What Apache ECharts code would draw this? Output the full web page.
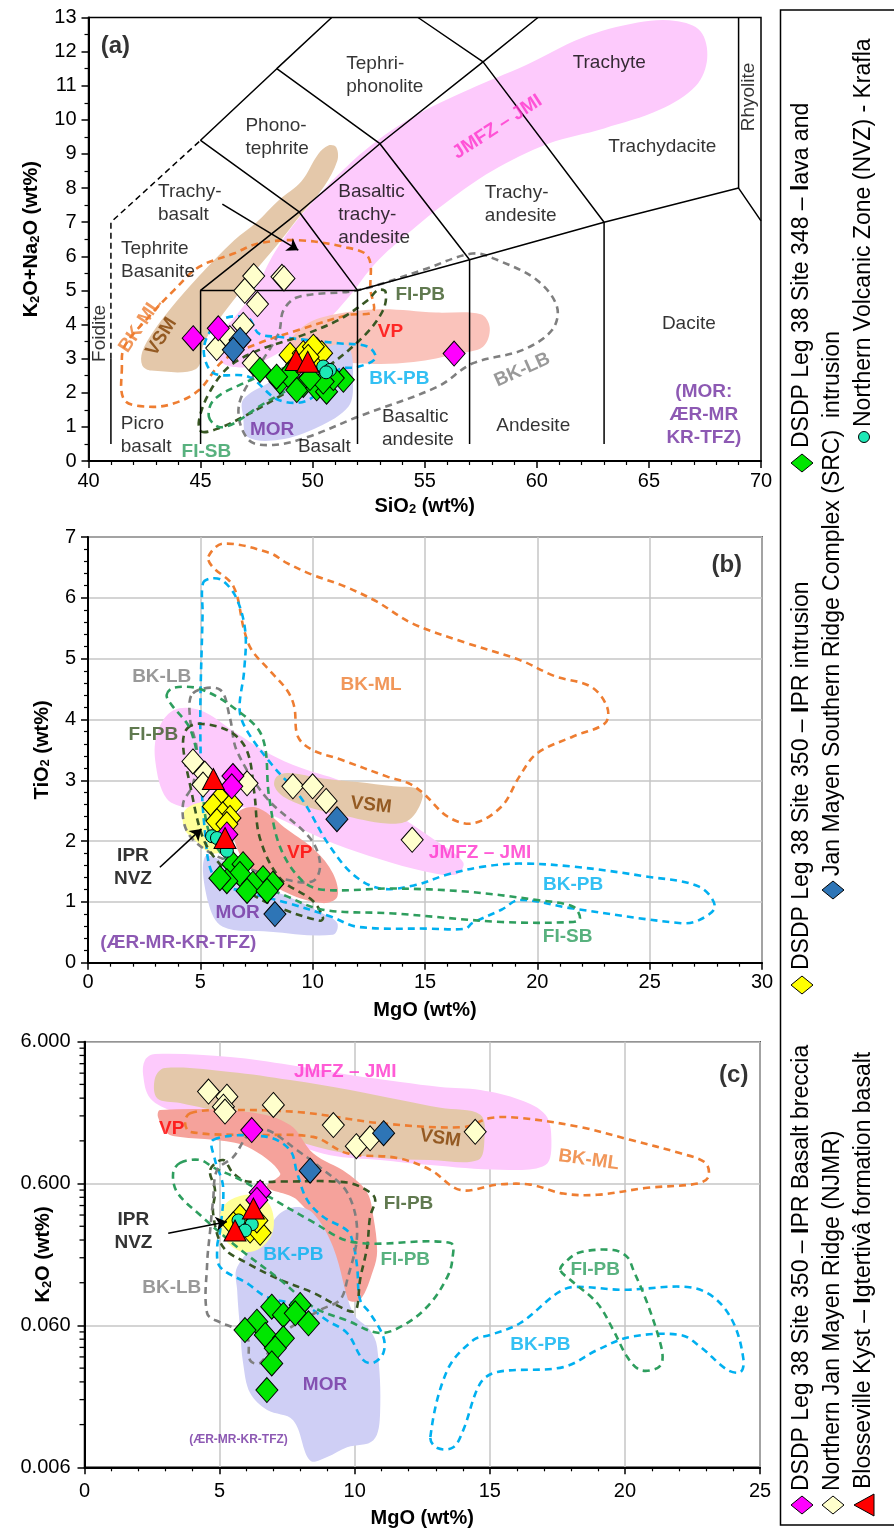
<!DOCTYPE html>
<html><head><meta charset="utf-8">
<script src="https://cdn.jsdelivr.net/npm/echarts@6.0.0/dist/echarts.min.js"></script>
<style>html,body{margin:0;padding:0;background:#fff}#c{width:894px;height:1535px}</style>
</head><body><div id="c"></div>
<script>
// ================= DATA =================
// ---- Panel (a): TAS  [SiO2, Na2O+K2O]
const magA   = [[44.67,3.6],[45.79,3.89],[56.31,3.15]];
const creamA = [[47.37,5.42],[48.63,5.40],[48.72,5.35],[46.97,4.99],[47.54,4.60],[46.9,3.99],[45.72,3.31],[47.35,2.87],[46.3,3.6]];
const blueA  = [[46.76,3.55],[46.46,3.26]];
const yelA   = [[48.99,3.11],[49.58,3.16],[50.18,3.26],[50.4,3.16],[49.29,2.82],[49.88,2.91],[50.03,3.35],[49.8,3.05]];
const grnA   = [[47.65,2.67],[48.54,2.33],[48.91,2.52],[49.58,2.23],[49.29,2.08],[50.18,2.13],[50.62,2.03],[51.37,2.38],[50.92,2.43],[50.47,2.33],[49.88,2.43],[48.39,2.47]];
const redA   = [[49.26,2.96],[49.78,2.91]];
const cyanA  = [[50.47,2.77],[50.77,2.67],[50.6,2.6]];
// TAS field boundaries
const tasSolid = [
  [[41,0.5],[41,3]],
  [[45,0.5],[45,5],[52,5],[52,0.5]],
  [[57,0.5],[57,5.9]],
  [[63,0.5],[63,7]],
  [[52,5],[57,5.9],[63,7],[69,8],[70,7.04]],
  [[45,5],[49.4,7.3],[53,9.3],[57.6,11.7],[60.05,13]],
  [[52,5],[49.4,7.3],[45,9.4],[48.4,11.5],[50.85,13]],
  [[57,5.9],[53,9.3],[48.4,11.5]],
  [[63,7],[57.6,11.7],[54.7,13]],
  [[69,8],[69,13]]
];
const tasDashed = [[41,3],[41,7],[45,9.4]];
// fields (a)
const JMFZ_A = [[45.5,3.5],[45.9,2.9],[47.0,2.75],[48.3,3.1],[49.5,3.6],[50.6,4.1],[51.6,4.8],[52.8,5.8],[54.3,6.7],[56.0,7.6],[58.0,8.5],[60.5,9.3],[63.0,9.75],[65.5,10.3],[67.1,11.0],[67.6,11.8],[67.3,12.6],[66.2,12.9],[64.5,12.85],[62.0,12.4],[59.5,11.6],[57.0,10.9],[54.5,10.1],[52.5,9.2],[51.0,8.3],[50.0,7.6],[49.0,6.8],[48.2,6.0],[47.4,5.0],[46.5,4.2]];
const VSM_A  = [[42.4,2.8],[42.8,2.65],[44.8,2.7],[45.15,3.45],[45.8,4.13],[46.7,4.91],[47.6,5.7],[48.5,6.4],[49.4,7.16],[50.5,8.04],[51.1,8.8],[51.05,9.2],[50.7,9.25],[50.25,9.0],[49.5,8.2],[48.5,7.65],[47.5,7.0],[46.5,6.47],[44.9,5.4],[43.7,4.5],[42.9,3.8],[42.4,3.2]];
const VP_A   = [[49.0,3.4],[49.7,4.0],[51.0,4.3],[53.0,4.45],[55.5,4.35],[57.5,4.3],[57.9,3.9],[57.6,3.35],[56.5,3.15],[54.5,2.9],[52.5,2.85],[50.5,3.0]];
const MOR_A  = [[46.9,1.3],[47.1,0.7],[48.5,0.62],[50.25,1.0],[51.6,1.6],[51.8,2.3],[51.6,3.35],[50.7,3.35],[49.4,2.76],[48.0,2.28],[46.9,1.8]];
const BKML_A = [[41.49,2.76],[41.6,1.79],[42.7,1.59],[43.82,1.69],[44.93,2.08],[46.04,2.96],[47.59,3.45],[49.36,3.84],[51.58,4.28],[52.69,4.38],[52.58,5.01],[52.47,5.99],[51.36,6.28],[49.36,6.47],[47.59,6.38],[46.48,6.08],[44.93,5.69],[43.82,5.01],[42.7,4.23],[41.6,3.35]];
const BKLB_A = [[46.7,1.59],[47.14,0.62],[48.25,0.47],[49.81,0.71],[52.03,1.3],[55.58,2.18],[57.13,2.86],[59.35,3.25],[60.68,3.84],[60.9,4.52],[60.01,5.3],[58.24,5.89],[57.13,6.08],[54.91,5.6],[52.03,5.01],[49.36,4.81],[48.7,4.42],[48.48,3.74],[47.59,2.76]];
const BKPB_A = [[45.37,3.74],[46.04,4.18],[47.14,4.18],[47.59,3.74],[48.48,3.64],[51.14,3.45],[52.47,3.35],[52.8,3.01],[52.03,2.76],[51.14,2.67],[49.81,1.79],[48.48,1.79],[47.14,2.47],[45.59,2.57],[45.15,3.15]];
const FIPB_A = [[45.04,0.86],[45.81,0.96],[46.92,1.3],[48.48,1.88],[50.47,2.67],[52.25,3.64],[53.14,4.42],[53.25,4.96],[52.91,5.01],[52.47,4.72],[51.14,4.13],[49.36,3.64],[47.59,3.25],[46.26,2.76],[45.37,1.98],[44.93,1.19]];
const FISB_A = [[45.37,1.3],[45.81,1.0],[46.48,1.1],[47.59,1.59],[49.36,2.28],[50.25,2.76],[50.03,2.96],[48.48,2.67],[46.92,2.28],[45.59,1.79]];

// ---- Panel (b): [MgO, TiO2]
const creamB = [[4.67,3.31],[5.2,3.11],[5.12,2.93],[7.08,2.95],[9.12,2.9],[10.0,2.9],[10.6,2.66],[14.43,2.02]];
const magB   = [[6.45,3.07],[6.4,2.9],[6.18,2.11]];
const redB   = [[5.58,3.02],[6.1,2.05]];
const yelB   = [[5.87,2.7],[6.4,2.6],[5.58,2.57],[6.0,2.44],[6.32,2.38],[5.74,2.33],[6.18,2.28]];
const cyanB  = [[5.52,2.08],[5.74,2.05],[6.18,1.84]];
const grnB   = [[6.45,1.62],[6.9,1.62],[6.76,1.46],[7.79,1.39],[8.23,1.3],[7.34,1.3],[6.18,1.34],[5.87,1.39],[7.08,1.18],[7.97,1.18]];
const blueB  = [[11.08,2.36],[8.32,0.8]];
const JMFZ_B = [[3.0,3.3],[3.1,3.8],[3.8,4.15],[5.0,4.15],[6.5,3.8],[8.0,3.45],[9.5,3.2],[11.5,2.95],[13.5,2.5],[15.5,2.0],[16.7,1.65],[16.4,1.45],[15.0,1.5],[13.0,1.7],[11.0,1.95],[9.5,2.2],[8.0,2.45],[7.0,2.55],[5.5,2.6],[4.5,2.55],[3.5,2.7]];
const VSM_B  = [[8.4,3.06],[8.9,3.12],[10.45,3.03],[12.0,2.97],[13.6,2.9],[14.6,2.87],[14.9,2.73],[14.3,2.35],[13.3,2.29],[11.25,2.43],[9.7,2.57],[8.7,2.73],[8.3,2.9]];
const VP_B   = [[6.8,2.51],[7.6,2.54],[8.9,2.18],[10.1,1.85],[10.9,1.47],[11.1,1.09],[10.45,0.98],[8.9,1.14],[7.3,1.52],[6.6,1.91],[6.5,2.29]];
const MOR_B  = [[5.2,1.74],[5.36,0.98],[6.0,0.59],[8.1,0.51],[10.9,0.46],[11.1,0.65],[10.45,0.81],[8.9,1.09],[7.3,1.31],[6.2,1.63]];
const YEL_B  = [[4.3,2.5],[5.2,2.65],[6.2,2.6],[6.5,2.2],[6.3,1.9],[5.5,1.8],[4.8,2.0],[4.3,2.2]];
const BKML_B = [[5.36,6.68],[6.0,6.89],[8.07,6.74],[8.86,6.57],[9.98,6.38],[11.41,6.19],[12.84,5.94],[14.43,5.58],[16.82,5.26],[19.2,4.98],[20.79,4.71],[22.38,4.54],[23.1,4.21],[23.02,3.94],[21.59,3.72],[19.98,3.44],[19.2,3.06],[18.41,2.57],[17.13,2.29],[16.02,2.4],[14.91,2.79],[14.27,2.95],[13.32,3.06],[11.25,3.34],[9.98,3.5],[9.34,3.72],[9.18,4.21],[8.86,4.48],[8.07,4.81],[7.27,5.15],[6.95,5.47],[6.47,6.19],[5.52,6.52]];
const BKPB_B = [[5.12,6.24],[5.5,6.32],[6.0,6.28],[6.6,6.0],[7.0,5.45],[6.95,4.8],[6.75,4.15],[7.1,3.8],[8.2,3.25],[9.5,2.7],[10.7,1.95],[11.8,1.45],[13.0,1.22],[14.5,1.27],[16.0,1.45],[17.6,1.58],[19.2,1.63],[21.6,1.58],[24.8,1.42],[27.2,1.25],[27.9,0.92],[27.2,0.7],[26.4,0.65],[21.6,0.89],[19.2,1.03],[18.4,0.87],[17.1,0.65],[16.8,0.56],[15.2,0.56],[12.0,0.59],[10.8,0.76],[8.9,0.98],[7.3,1.14],[5.7,1.36],[5.2,2.18],[5.0,3.8],[5.1,5.75]];
const BKLB_B = [[4.67,4.43],[5.87,4.49],[6.32,4.02],[6.63,3.48],[7.97,2.7],[9.88,2.05],[10.33,1.62],[10.0,1.34],[8.54,1.39],[6.63,1.62],[5.3,1.84],[4.41,2.16],[4.23,2.61],[4.67,2.93],[4.85,3.48],[4.54,4.02]];
const FIPB_B = [[4.41,3.85],[4.98,3.93],[6.32,3.8],[7.08,3.48],[7.4,2.8],[7.65,2.05],[8.54,1.39],[10.0,1.02],[10.46,0.74],[10.33,0.69],[8.54,0.9],[7.08,1.18],[5.87,1.62],[5.12,2.05],[4.54,2.93],[4.23,3.59]];
const FISB_B = [[3.5,4.4],[3.8,4.52],[5.0,4.5],[6.6,4.16],[7.75,3.72],[8.06,2.73],[8.54,1.91],[9.5,1.36],[10.45,1.2],[13.6,1.22],[16.8,1.17],[20.0,1.03],[21.6,0.92],[21.9,0.73],[21.6,0.67],[18.4,0.67],[13.6,0.81],[10.45,0.87],[8.86,1.09],[7.27,1.36],[6.16,1.69],[5.36,2.18],[5.04,3.0],[4.56,3.83],[3.7,4.25]];

// ---- Panel (c): [MgO, K2O]  (log axis)
const creamC = [[4.59,2.67],[5.27,2.46],[5.14,2.09],[5.2,1.93],[6.99,2.15],[9.21,1.55],[10.06,1.10],[10.57,1.25],[14.46,1.39]];
const blueC  = [[11.07,1.36],[8.35,0.74]];
const magC   = [[6.19,1.43],[6.5,0.52],[6.38,0.46]];
const redC   = [[6.25,0.40],[5.57,0.28]];
const yelC   = [[5.76,0.35],[6.13,0.28],[6.5,0.27],[5.51,0.31],[6.38,0.33]];
const cyanC  = [[6.19,0.31],[5.7,0.33],[5.94,0.28]];
const grnC   = [[6.93,0.0813],[7.98,0.0836],[7.36,0.0711],[7.8,0.0731],[6.38,0.0638],[5.94,0.0557],[6.69,0.0514],[7.36,0.0487],[7.06,0.0414],[6.93,0.0324],[8.29,0.0621],[6.75,0.021]];
const JMFZ_C = [[2.24,4.46],[2.61,4.91],[5.39,4.68],[7.61,4.11],[9.83,3.49],[11.69,3.12],[13.17,2.88],[14.65,2.74],[16.13,2.33],[17.06,1.83],[17.28,1.22],[17.06,0.81],[15.39,0.75],[12.8,0.81],[10.94,0.88],[9.09,0.95],[7.24,1.22],[5.39,1.55],[3.35,1.92],[2.43,2.40],[2.17,3.49]];
const VSM_C  = [[2.61,3.33],[2.98,3.92],[5.39,3.67],[7.61,3.22],[9.83,2.74],[11.69,2.33],[13.17,2.05],[14.65,1.83],[14.8,1.22],[14.57,0.88],[12.8,0.88],[10.94,0.91],[9.09,1.03],[7.24,1.32],[5.39,1.83],[3.54,2.22],[2.69,2.40]];
const VP_C   = [[2.80,1.98],[6.13,1.91],[7.61,1.55],[8.46,0.98],[9.72,0.71],[10.46,0.52],[10.69,0.35],[10.83,0.20],[10.69,0.148],[10.2,0.091],[9.72,0.091],[9.2,0.126],[9.09,0.214],[7.87,0.46],[6.76,0.57],[7.24,0.71],[6.02,1.09],[4.76,1.22],[3.54,1.28],[3.06,1.36],[2.72,1.77]];
const MOR_C  = [[5.65,0.155],[6.76,0.28],[7.24,0.37],[7.87,0.41],[8.46,0.37],[9.2,0.214],[9.94,0.073],[10.57,0.0556],[10.83,0.0423],[10.94,0.0145],[10.69,0.0093],[9.72,0.0083],[8.98,0.0071],[8.35,0.0067],[7.72,0.0129],[6.76,0.0152],[6.13,0.020],[5.87,0.0325],[5.76,0.0556],[5.65,0.106]];
const YEL_C  = [[5.02,0.36],[5.39,0.46],[6.31,0.50],[6.87,0.42],[6.98,0.28],[6.5,0.21],[5.76,0.20],[5.09,0.26]];
const BKML_C = [[3.91,1.88],[5.13,1.98],[7.98,1.91],[10.94,1.60],[14.02,1.50],[15.02,1.74],[16.13,1.74],[18.35,1.50],[20.2,1.22],[22.06,0.98],[22.98,0.84],[23.09,0.67],[22.69,0.60],[20.83,0.56],[18.98,0.50],[17.72,0.51],[16.5,0.59],[15.28,0.59],[13.91,0.54],[12.8,0.75],[11.57,0.91],[9.72,0.98],[8.46,1.28],[6.02,1.32],[3.91,1.39],[3.72,1.63]];
const BKPB1_C = [[4.77,1.22],[6.76,1.28],[7.61,1.03],[7.87,0.71],[8.24,0.46],[8.83,0.35],[9.72,0.28],[9.94,0.229],[10.09,0.155],[10.2,0.091],[10.57,0.073],[11.06,0.0498],[11.06,0.0384],[10.69,0.0327],[10.31,0.0343],[9.72,0.053],[8.98,0.065],[8.24,0.081],[6.76,0.095],[6.02,0.119],[5.02,0.155],[4.91,0.214],[5.02,0.28],[5.13,0.57],[4.83,0.88]];
const BKPB2_C = [[12.8,0.0098],[13.43,0.0291],[14.39,0.0473],[15.02,0.0514],[16.13,0.0624],[17.5,0.1016],[18.09,0.112],[19.94,0.107],[22.31,0.112],[23.28,0.095],[24.02,0.0624],[24.39,0.0343],[24.28,0.0282],[23.8,0.0291],[22.8,0.0423],[22.06,0.0514],[20.2,0.0498],[18.98,0.0403],[17.72,0.0305],[15.28,0.0282],[14.65,0.0235],[14.02,0.0110],[13.65,0.0083],[13.06,0.0082]];
const FIPB_DK_C = [[4.65,0.75],[5.13,0.88],[5.5,0.71],[6.02,0.62],[7.24,0.62],[9.72,0.61],[10.57,0.52],[10.76,0.46],[10.57,0.35],[10.46,0.214],[10.2,0.126],[10.09,0.081],[9.94,0.075],[9.46,0.081],[8.46,0.102],[7.24,0.126],[6.02,0.165],[5.13,0.214],[4.76,0.37],[4.83,0.54]];
const FIPB1_C = [[3.54,0.84],[4.28,0.88],[4.76,0.78],[5.76,0.64],[6.87,0.48],[8.35,0.33],[9.94,0.232],[13.54,0.229],[13.61,0.173],[13.43,0.132],[12.8,0.086],[11.94,0.0624],[10.94,0.053],[9.72,0.065],[8.46,0.081],[7.24,0.126],[5.65,0.214],[4.28,0.36],[3.43,0.52],[3.28,0.71]];
const FIPB2_C = [[17.61,0.148],[17.87,0.173],[18.35,0.197],[19.57,0.204],[20.09,0.182],[20.31,0.148],[20.83,0.086],[21.31,0.045],[21.39,0.0342],[21.2,0.030],[20.57,0.0291],[20.09,0.0359],[19.57,0.0557],[18.98,0.086],[17.98,0.126]];
const BKLB_C = [[6.13,1.36],[5.5,0.92],[4.91,0.75],[4.76,0.46],[4.65,0.28],[4.54,0.165],[4.54,0.073],[5.02,0.063],[5.5,0.058],[6.02,0.050],[6.13,0.034],[6.5,0.0326],[7.24,0.051],[8.72,0.077],[9.46,0.091],[9.72,0.125],[10.09,0.27],[9.72,0.52],[8.72,0.78],[7.87,1.03],[6.76,1.43]];
const yTicksC = ['0.006','0.060','0.600','6.000'];

// ================= RENDER =================
const FONT = "'Liberation Sans', Arial, Helvetica, sans-serif";
const LG0 = 0.006;
const lg = v => Math.log10(v / LG0);
const T = arr => arr.map(p => [p[0], lg(p[1])]);

const COL = {mag:'#ff00ff', yel:'#ffff00', grn:'#00e600', cream:'#ffffcc', blue:'#2e75b6', red:'#ff0000', cyan:'#1de9b6'};
const LC = {orange:'#ee7d31', gray:'#7f7f7f', cyan:'#00b0f0', dkgreen:'#385723', green:'#2e9e5e', brown:'#7f3f00', red:'#ff0000', pink:'#ff33cc', purple:'#7030a0'};

function region(points, gi, fill, z, opacity){
  return {type:'custom', xAxisIndex:gi, yAxisIndex:gi, clip:true, silent:true, z:z||1, data:points,
    renderItem:(params, api)=>{ if(params.dataIndex!==0) return null;
      return {type:'polygon', shape:{points:points.map(p=>api.coord(p)), smooth:0.35},
        style:{fill:fill, opacity: opacity==null?1:opacity}}; }};
}
function outline(points, gi, color){
  return {type:'custom', xAxisIndex:gi, yAxisIndex:gi, clip:true, silent:true, z:3, data:points,
    renderItem:(params, api)=>{ if(params.dataIndex!==0) return null;
      return {type:'polygon', shape:{points:points.map(p=>api.coord(p)), smooth:0.35},
        style:{fill:'none', stroke:color, lineWidth:2.6, lineDash:[7,5]}}; }};
}
function pts(data, gi, kind, color){
  const s = kind==='d' ? {symbol:'diamond', symbolSize:[22,25]} : kind==='t' ? {symbol:'triangle', symbolSize:[22,21]} : {symbol:'circle', symbolSize:13};
  return Object.assign({type:'scatter', xAxisIndex:gi, yAxisIndex:gi, data:data, z:10,
    itemStyle:{color:color, borderColor:'#000', borderWidth:1, opacity:1}}, s);
}
function texts(list, gi){
  return {type:'scatter', xAxisIndex:gi, yAxisIndex:gi, symbolSize:0, silent:true, z:20,
    data:list.map(l=>({value:[l.x,l.y], label:{show:true, position:'inside', formatter:l.t,
      color:l.c||'#000', fontSize:l.s||19, fontWeight:l.b?'bold':'normal', fontFamily:FONT, align:l.a||'center',
      verticalAlign:'middle', lineHeight:l.lh||23, rotate:l.r||0}}))};
}
function arrow(from, to, gi){
  return {type:'lines', coordinateSystem:'cartesian2d', xAxisIndex:gi, yAxisIndex:gi, z:15, silent:true,
    symbol:['none','arrow'], symbolSize:11, lineStyle:{color:'#000', width:1.6, opacity:1, curveness:0},
    data:[{coords:[from,to]}]};
}

const series = [];
// ---- (a)
series.push(region(JMFZ_A,0,'#fdcafc',1), region(VSM_A,0,'#e4c8aa',1), region(VP_A,0,'#fac3bb',1), region(MOR_A,0,'#cfcff5',1));
[[BKML_A,LC.orange],[BKLB_A,LC.gray],[BKPB_A,LC.cyan],[FIPB_A,LC.dkgreen],[FISB_A,LC.green]].forEach(([p,c])=>series.push(outline(p,0,c)));
tasSolid.forEach(l=>series.push({type:'line', xAxisIndex:0, yAxisIndex:0, data:l, symbol:'none', silent:true, z:4,
  lineStyle:{color:'#000', width:1.5}}));
series.push({type:'line', xAxisIndex:0, yAxisIndex:0, data:tasDashed, symbol:'none', silent:true, z:4, lineStyle:{color:'#000', width:1.5, type:[6,4]}});
series.push(arrow([45.97,7.53],[49.36,6.18],0));
series.push(pts(creamA,0,'d',COL.cream), pts(blueA,0,'d',COL.blue), pts(magA,0,'d',COL.mag), pts(yelA,0,'d',COL.yel),
  pts(grnA,0,'d',COL.grn), pts(cyanA,0,'c',COL.cyan), pts(redA,0,'t',COL.red));
series.push(texts([
  {x:41.2,y:12.14,t:'(a)',b:1,s:24},
  {x:51.5,y:11.32,t:'Tephri-\nphonolite',a:'left'},
  {x:47.0,y:9.48,t:'Phono-\ntephrite',a:'left'},
  {x:43.1,y:7.55,t:'Trachy-\nbasalt',a:'left'},
  {x:41.45,y:5.89,t:'Tephrite\nBasanite',a:'left'},
  {x:51.14,y:7.22,t:'Basaltic\ntrachy-\nandesite',a:'left'},
  {x:57.68,y:7.52,t:'Trachy-\nandesite',a:'left'},
  {x:63.23,y:11.67,t:'Trachyte'},
  {x:65.6,y:9.21,t:'Trachydacite'},
  {x:69.44,y:10.67,t:'Rhyolite',r:90},
  {x:66.78,y:4.01,t:'Dacite'},
  {x:59.84,y:1.03,t:'Andesite'},
  {x:53.09,y:0.96,t:'Basaltic\nandesite',a:'left'},
  {x:50.52,y:0.42,t:'Basalt'},
  {x:41.44,y:0.75,t:'Picro\nbasalt',a:'left'},
  {x:40.49,y:3.74,t:'Foidite',r:90},
  {x:48.19,y:0.91,t:'MOR',b:1,c:LC.purple},
  {x:45.26,y:0.27,t:'FI-SB',b:1,c:LC.green},
  {x:42.31,y:3.98,t:'BK-ML',b:1,c:LC.orange,r:56},
  {x:43.26,y:3.64,t:'VSM',b:1,c:LC.brown,r:58},
  {x:54.8,y:4.86,t:'FI-PB',b:1,c:LC.dkgreen},
  {x:53.47,y:3.79,t:'VP',b:1,c:LC.red},
  {x:53.87,y:2.42,t:'BK-PB',b:1,c:LC.cyan},
  {x:59.35,y:2.67,t:'BK-LB',b:1,c:LC.gray,r:24},
  {x:58.24,y:9.79,t:'JMFZ – JMI',b:1,c:LC.pink,r:33},
  {x:67.45,y:1.36,t:'(MOR:\nÆR-MR\nKR-TFZ)',b:1,c:LC.purple}
],0));

// ---- (b)
series.push(region(JMFZ_B,1,'#fdcafc',1), region(VSM_B,1,'#e4c8aa',1), region(VP_B,1,'#f5a29b',1), region(MOR_B,1,'#cfcff5',1), region(YEL_B,1,'#ffff99',1));
[[BKML_B,LC.orange],[BKPB_B,LC.cyan],[BKLB_B,LC.gray],[FIPB_B,LC.dkgreen],[FISB_B,LC.green]].forEach(([p,c])=>series.push(outline(p,1,c)));
series.push(arrow([3.2,1.57],[5.05,2.2],1));
series.push(pts(creamB,1,'d',COL.cream), pts(blueB,1,'d',COL.blue), pts(yelB,1,'d',COL.yel), pts(magB,1,'d',COL.mag),
  pts(grnB,1,'d',COL.grn), pts(cyanB,1,'c',COL.cyan), pts(redB,1,'t',COL.red));
series.push(texts([
  {x:28.43,y:6.54,t:'(b)',b:1,s:24},
  {x:12.6,y:4.57,t:'BK-ML',b:1,c:LC.orange},
  {x:12.6,y:2.59,t:'VSM',b:1,c:LC.brown,r:-6},
  {x:9.42,y:1.80,t:'VP',b:1,c:LC.red},
  {x:17.45,y:1.80,t:'JMFZ – JMI',b:1,c:LC.pink},
  {x:21.59,y:1.28,t:'BK-PB',b:1,c:LC.cyan},
  {x:21.35,y:0.43,t:'FI-SB',b:1,c:LC.green},
  {x:6.66,y:0.82,t:'MOR',b:1,c:LC.purple},
  {x:4.02,y:0.32,t:'(ÆR-MR-KR-TFZ)',b:1,c:LC.purple},
  {x:3.28,y:4.70,t:'BK-LB',b:1,c:LC.gray},
  {x:2.91,y:3.75,t:'FI-PB',b:1,c:LC.dkgreen},
  {x:2.0,y:1.565,t:'IPR\nNVZ',b:1,lh:23}
],1));

// ---- (c)
series.push(region(T(JMFZ_C),2,'#fdcafc',1), region(T(VSM_C),2,'#e4c8aa',1), region(T(VP_C),2,'#f5a29b',1), region(T(MOR_C),2,'#cfcff5',1), region(T(YEL_C),2,'#ffff99',1));
[[BKML_C,LC.orange],[BKPB1_C,LC.cyan],[BKPB2_C,LC.cyan],[FIPB_DK_C,LC.dkgreen],[FIPB1_C,LC.green],[FIPB2_C,LC.green],[BKLB_C,LC.gray]].forEach(([p,c])=>series.push(outline(T(p),2,c)));
series.push(arrow([3.1,lg(0.268)],[5.27,lg(0.323)],2));
series.push(pts(T(creamC),2,'d',COL.cream), pts(T(blueC),2,'d',COL.blue), pts(T(yelC),2,'d',COL.yel), pts(T(magC),2,'d',COL.mag),
  pts(T(grnC),2,'d',COL.grn), pts(T(cyanC),2,'c',COL.cyan), pts(T(redC),2,'t',COL.red));
series.push(texts([
  {x:24.03,y:lg(3.49),t:'(c)',b:1,s:24},
  {x:9.65,y:lg(3.69),t:'JMFZ – JMI',b:1,c:LC.pink},
  {x:3.23,y:lg(1.47),t:'VP',b:1,c:LC.red},
  {x:13.17,y:lg(1.25),t:'VSM',b:1,c:LC.brown,r:-8},
  {x:18.66,y:lg(0.88),t:'BK-ML',b:1,c:LC.orange,r:-8},
  {x:11.99,y:lg(0.435),t:'FI-PB',b:1,c:LC.dkgreen},
  {x:11.87,y:lg(0.174),t:'FI-PB',b:1,c:LC.green},
  {x:18.9,y:lg(0.148),t:'FI-PB',b:1,c:LC.green},
  {x:7.73,y:lg(0.188),t:'BK-PB',b:1,c:LC.cyan},
  {x:16.87,y:lg(0.0437),t:'BK-PB',b:1,c:LC.cyan},
  {x:3.23,y:lg(0.110),t:'BK-LB',b:1,c:LC.gray},
  {x:8.9,y:lg(0.0229),t:'MOR',b:1,c:LC.purple},
  {x:5.7,y:lg(0.0094),t:'(ÆR-MR-KR-TFZ)',b:1,c:LC.purple,s:12},
  {x:1.81,y:lg(0.275),t:'IPR\nNVZ',b:1,lh:23}
],2));
// minor log ticks on (c) y axis
const minorC = [];
for (let d=0; d<3; d++) for (let k=2; k<=9; k++) minorC.push([0, d + Math.log10(k)]);
series.push({type:'custom', xAxisIndex:2, yAxisIndex:2, clip:false, silent:true, z:30, data:minorC,
  renderItem:(params, api)=>{ const p = api.coord([0, api.value(1)]);
    return {type:'line', shape:{x1:p[0], y1:p[1], x2:p[0]-5, y2:p[1]}, style:{stroke:'#000', lineWidth:1.3}}; }});

// ---- axes
const axLine = {onZero:false, lineStyle:{color:'#000', width:2}};
const axTick = {length:7, lineStyle:{color:'#000', width:1.5}};
const mTick = (n)=>({show:true, splitNumber:n, length:4, lineStyle:{color:'#000', width:1.2}});
const lab = (m)=>({fontSize:20, color:'#000', fontFamily:FONT, margin:m});
const nameStyle = {fontSize:20, fontWeight:'bold', color:'#000', fontFamily:FONT,
  rich:{s:{fontSize:13, fontWeight:'bold', fontFamily:FONT, verticalAlign:'bottom', color:'#000'}}};
const split = {show:true, lineStyle:{color:'#c6c6c6', width:1.5}};
const gridBase = {show:true, borderColor:'#000', borderWidth:1.5, containLabel:false, outerBoundsMode:'none'};

const option = {
  animation:false,
  backgroundColor:'#fff',
  grid:[
    Object.assign({left:88.5, top:17.5, width:672.5, height:443.5}, gridBase),
    Object.assign({left:88, top:537, width:674, height:425.7}, gridBase),
    Object.assign({left:84.5, top:1041.7, width:675.5, height:425.6}, gridBase)
  ],
  xAxis:[
    {gridIndex:0, type:'value', min:40, max:70, interval:5, axisLine:axLine, axisTick:axTick, minorTick:mTick(5), splitLine:{show:false},
     axisLabel:lab(10), name:'SiO{s|2} (wt%)', nameLocation:'middle', nameGap:35, nameTextStyle:nameStyle},
    {gridIndex:1, type:'value', min:0, max:30, interval:5, axisLine:axLine, axisTick:axTick, minorTick:mTick(5), splitLine:split,
     axisLabel:lab(10), name:'MgO (wt%)', nameLocation:'middle', nameGap:38, nameTextStyle:nameStyle},
    {gridIndex:2, type:'value', min:0, max:25, interval:5, axisLine:axLine, axisTick:axTick, minorTick:mTick(5), splitLine:split,
     axisLabel:lab(14), name:'MgO (wt%)', nameLocation:'middle', nameGap:41, nameTextStyle:nameStyle}
  ],
  yAxis:[
    {gridIndex:0, type:'value', min:0, max:13, interval:1, axisLine:axLine, axisTick:axTick, minorTick:mTick(2), splitLine:{show:false},
     axisLabel:lab(12), name:'K{s|2}O+Na{s|2}O (wt%)', nameLocation:'middle', nameRotate:90, nameGap:47, nameTextStyle:nameStyle},
    {gridIndex:1, type:'value', min:0, max:7, interval:1, axisLine:axLine, axisTick:axTick, minorTick:mTick(5), splitLine:split,
     axisLabel:lab(12), name:'TiO{s|2} (wt%)', nameLocation:'middle', nameRotate:90, nameGap:36, nameTextStyle:nameStyle},
    {gridIndex:2, type:'value', min:0, max:3, interval:1, axisLine:axLine, axisTick:axTick, minorTick:{show:false}, splitLine:split,
     axisLabel:Object.assign(lab(14), {formatter:v=>yTicksC[Math.round(v)]}), name:'K{s|2}O (wt%)', nameLocation:'middle', nameRotate:90, nameGap:31, nameMoveOverlap:false, nameTextStyle:nameStyle}
  ],
  series:series,
  graphic:buildLegend()
};

function diamond(cx, cy, fill){
  return {type:'polygon', shape:{points:[[cx-11,cy],[cx,cy-9],[cx+11,cy],[cx,cy+9]]}, style:{fill:fill, stroke:'#000', lineWidth:1}};
}
function ltext(x, y, t){
  return {type:'text', x:x, y:y, rotation:Math.PI/2,
    style:{text:t, fill:'#000', fontSize:23, fontFamily:FONT, align:'left', verticalAlign:'middle', textAlign:'left', textVerticalAlign:'middle',
      rich:{b:{fontSize:23, fontWeight:'bold', fontFamily:FONT, fill:'#000'}}}};
}
function buildLegend(){
  const g = [];
  g.push({type:'rect', shape:{x:780.5, y:10, width:140, height:1515}, style:{fill:'none', stroke:'#000', lineWidth:1.5}});
  const c1=802, c2=833, c3=864;
  g.push(diamond(c1,1505,COL.mag), ltext(c1,1491,'DSDP Leg 38 Site 350 – {b|I}PR Basalt breccia'));
  g.push(diamond(c1,985,COL.yel), ltext(c1,970,'DSDP Leg 38 Site 350 – {b|I}PR intrusion'));
  g.push(diamond(c1,463,COL.grn), ltext(c1,448,'DSDP Leg 38 Site 348 – {b|l}ava and'));
  g.push(diamond(c2,1505,COL.cream), ltext(c2,1491,'Northern Jan Mayen Ridge (NJMR)'));
  g.push(diamond(c2,890,COL.blue), ltext(c2,876,'Jan Mayen Southern Ridge Complex (SRC)'));
  g.push(ltext(c2,418,'intrusion'));
  g.push({type:'polygon', shape:{points:[[c3-10,1505],[c3+10,1494],[c3+10,1516]]}, style:{fill:COL.red, stroke:'#000', lineWidth:1}});
  g.push(ltext(c3,1489,'Blosseville Kyst – {b|I}gtertivâ formation basalt'));
  g.push({type:'circle', shape:{cx:c3, cy:437, r:5.5}, style:{fill:COL.cyan, stroke:'#000', lineWidth:1}});
  g.push(ltext(c3,427,'Northern Volcanic Zone (NVZ) - Krafla'));
  return g;
}

const chart = echarts.init(document.getElementById('c'), null, {renderer:'canvas'});
chart.setOption(option);
</script>
</body></html>
